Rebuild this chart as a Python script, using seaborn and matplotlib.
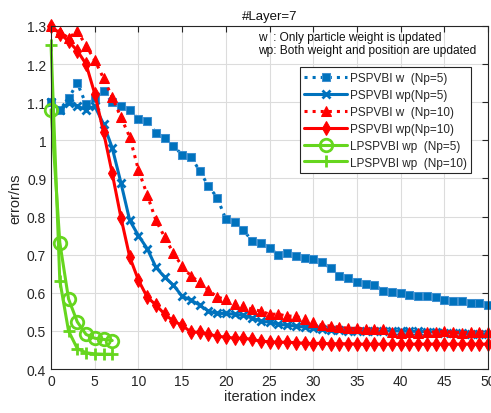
import numpy as np
import pandas as pd
import matplotlib
matplotlib.use("Agg")
import matplotlib.pyplot as plt
import seaborn as sns

sns.set_style("white")
plt.rcParams['font.family'] = ['Liberation Sans', 'DejaVu Sans']

# ---------------- data ----------------
iters_long = list(range(51))
iters_short = list(range(8))

pspvbi_w_np5 = [1.10, 1.08, 1.11, 1.15, 1.095, 1.11, 1.13, 1.10, 1.09, 1.08,
                1.055, 1.05, 1.02, 1.005, 0.985, 0.962, 0.957, 0.92, 0.88, 0.85,
                0.793, 0.786, 0.765, 0.736, 0.731, 0.717, 0.70, 0.704, 0.696, 0.691,
                0.688, 0.68, 0.665, 0.644, 0.638, 0.628, 0.623, 0.62, 0.606, 0.602,
                0.60, 0.594, 0.591, 0.591, 0.589, 0.581, 0.578, 0.578, 0.573, 0.573,
                0.568]

pspvbi_wp_np5 = [1.10, 1.08, 1.098, 1.09, 1.08, 1.09, 1.043, 0.98, 0.888, 0.79,
                 0.75, 0.716, 0.667, 0.641, 0.62, 0.591, 0.581, 0.568, 0.552, 0.546,
                 0.546, 0.544, 0.541, 0.534, 0.526, 0.523, 0.518, 0.515, 0.513, 0.51,
                 0.507, 0.505, 0.503, 0.502, 0.501, 0.50, 0.50, 0.50, 0.50, 0.50,
                 0.50, 0.499, 0.499, 0.498, 0.497, 0.496, 0.495, 0.494, 0.493, 0.492,
                 0.492]

pspvbi_w_np10 = [1.30, 1.285, 1.268, 1.287, 1.248, 1.21, 1.163, 1.113, 1.06, 1.009,
                 0.922, 0.857, 0.79, 0.746, 0.704, 0.67, 0.644, 0.628, 0.607, 0.589,
                 0.583, 0.57, 0.565, 0.557, 0.552, 0.544, 0.544, 0.539, 0.539, 0.531,
                 0.523, 0.515, 0.513, 0.51, 0.507, 0.507, 0.505, 0.505, 0.505, 0.498,
                 0.494, 0.497, 0.496, 0.498, 0.497, 0.499, 0.497, 0.496, 0.497, 0.497,
                 0.498]

pspvbi_wp_np10 = [1.30, 1.28, 1.26, 1.235, 1.20, 1.122, 1.022, 0.913, 0.797, 0.694,
                  0.633, 0.589, 0.568, 0.544, 0.526, 0.515, 0.497, 0.497, 0.492, 0.486,
                  0.484, 0.481, 0.481, 0.478, 0.473, 0.472, 0.470, 0.471, 0.469, 0.468,
                  0.467, 0.468, 0.466, 0.467, 0.466, 0.466, 0.465, 0.466, 0.465, 0.466,
                  0.465, 0.465, 0.466, 0.465, 0.466, 0.465, 0.466, 0.465, 0.466, 0.465,
                  0.466]

lpspvbi_wp_np5 = [1.08, 0.732, 0.584, 0.524, 0.491, 0.481, 0.478, 0.475]
lpspvbi_wp_np10 = [1.25, 0.632, 0.50, 0.454, 0.443, 0.440, 0.439, 0.439]

labels = ["PSPVBI w  (Np=5)", "PSPVBI wp(Np=5)", "PSPVBI w  (Np=10)",
          "PSPVBI wp(Np=10)", "LPSPVBI wp  (Np=5)", "LPSPVBI wp  (Np=10)"]
x_ticks = [0, 5, 10, 15, 20, 25, 30, 35, 40, 45, 50]
y_ticks = [0.4, 0.5, 0.6, 0.7, 0.8, 0.9, 1.0, 1.1, 1.2, 1.3]
y_tick_labels = ["0.4", "0.5", "0.6", "0.7", "0.8", "0.9", "1", "1.1", "1.2", "1.3"]

# ---------------- figure ----------------
fig = plt.figure(figsize=(4.91, 4.14), dpi=100)
ax = fig.add_axes([0.104, 0.106, 0.890, 0.829])

blue = '#0072BD'
red = '#FF0000'
green = '#66D61E'

series = [
    (iters_long, pspvbi_w_np5, dict(color=blue, linestyle=':', linewidth=2.2, marker='s',
                                   markersize=5.5, markerfacecolor=blue, markeredgecolor='#3d8fd0')),
    (iters_long, pspvbi_wp_np5, dict(color=blue, linestyle='-', linewidth=2.2, marker='x',
                                    markersize=6, markeredgewidth=2, markeredgecolor=blue)),
    (iters_long, pspvbi_w_np10, dict(color=red, linestyle=':', linewidth=2.2, marker='^',
                                    markersize=7, markerfacecolor=red, markeredgecolor=red)),
    (iters_long, pspvbi_wp_np10, dict(color=red, linestyle='-', linewidth=2.2, marker='d',
                                     markersize=7, markerfacecolor=red, markeredgecolor=red)),
    (iters_short, lpspvbi_wp_np5, dict(color=green, linestyle='-', linewidth=2.2, marker='o',
                                      markersize=9, markerfacecolor='none', markeredgecolor=green,
                                      markeredgewidth=2)),
    (iters_short, lpspvbi_wp_np10, dict(color=green, linestyle='-', linewidth=2.2, marker='+',
                                       markersize=8, markeredgewidth=2, markeredgecolor=green)),
]

for (xs, ys, kw), lab in zip(series, labels):
    df = pd.DataFrame({"iteration": xs, "error": ys})
    sns.lineplot(data=df, x="iteration", y="error", ax=ax, label=lab, clip_on=False, **kw)

ax.set_xlim(0, 50)
ax.set_ylim(0.4, 1.3)
ax.set_xticks(x_ticks)
ax.set_yticks(y_ticks)
ax.set_yticklabels(y_tick_labels)
ax.grid(True, color='#dcdcdc', linewidth=0.8)
ax.set_axisbelow(True)
for s in ax.spines.values():
    s.set_color('#262626')
    s.set_linewidth(0.8)
ax.tick_params(direction='in', length=4, width=0.8, colors='#262626', labelsize=10,
               top=True, right=True, labelcolor='#262626')
ax.set_xlabel("iteration index", fontsize=10.5, color='#262626', labelpad=1)
ax.set_ylabel("error/ns", fontsize=10.5, color='#262626', labelpad=3)
ax.set_title("#Layer=7", fontsize=9.5, color='#111111', pad=5)

ax.text(0.474, 0.985, "w  : Only particle weight is updated\nwp: Both weight and position are updated",
        transform=ax.transAxes, fontsize=8.6, va='top', ha='left', color='#111111',
        linespacing=1.05)

leg = ax.legend(loc='upper right', bbox_to_anchor=(0.962, 0.880), fontsize=8.5,
                frameon=True, fancybox=False, edgecolor='#262626', framealpha=1,
                handlelength=3.6, labelspacing=0.42, borderpad=0.4, handletextpad=0.25,
                borderaxespad=0)
leg.get_frame().set_linewidth(0.8)

fig.savefig("out.png", dpi=100)
